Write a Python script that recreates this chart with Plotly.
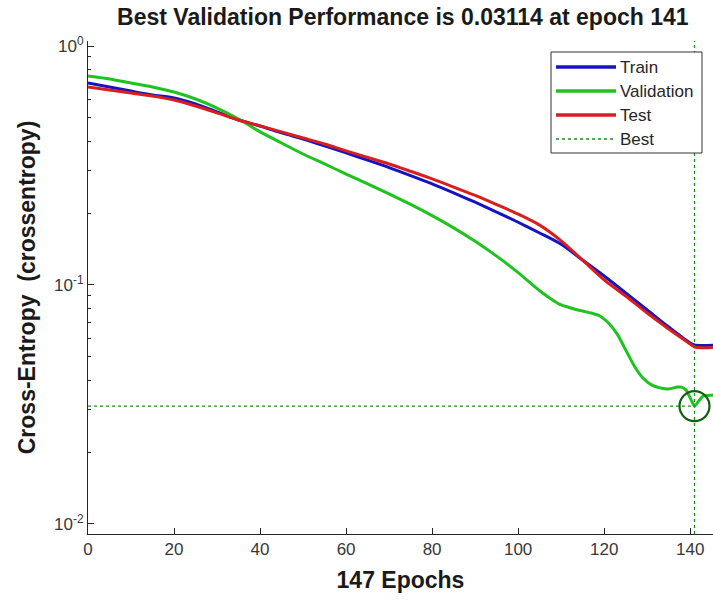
import plotly.graph_objects as go

# Epochs at which values were read
epochs_tr = [0, 5, 10, 15, 20, 25, 30, 35, 40, 45, 50, 55, 60, 65, 70, 75, 80, 85, 90, 95,
             100, 105, 110, 115, 120, 125, 130, 135, 140, 141, 147]
train = [0.700, 0.674, 0.648, 0.624, 0.606, 0.572, 0.530, 0.490, 0.463, 0.433, 0.408, 0.382,
         0.357, 0.333, 0.310, 0.287, 0.265, 0.243, 0.222, 0.202, 0.183, 0.165, 0.148,
         0.127, 0.109, 0.0926, 0.0786, 0.0667, 0.0572, 0.0561, 0.0561]
test = [0.674, 0.655, 0.636, 0.618, 0.594, 0.561, 0.525, 0.490, 0.463, 0.437, 0.412, 0.389,
        0.364, 0.342, 0.321, 0.299, 0.278, 0.257, 0.237, 0.217, 0.198, 0.178, 0.153,
        0.127, 0.105, 0.0899, 0.0763, 0.0654, 0.0566, 0.0550, 0.0550]

epochs_val = [0, 5, 10, 15, 20, 25, 30, 35, 40, 45, 50, 55, 60, 65, 70, 75, 80, 85, 90, 95,
              100, 105, 108, 110, 113, 115, 117, 119, 121, 123, 125, 127, 129, 131, 133, 135,
              137, 138, 139, 140, 141, 142, 143, 145, 147]
validation = [0.749, 0.728, 0.700, 0.674, 0.642, 0.600, 0.550, 0.495, 0.437, 0.3927, 0.3533,
              0.321, 0.2913, 0.2649, 0.2404, 0.2173, 0.195, 0.1734, 0.1524, 0.1321, 0.1127,
              0.0946, 0.0866, 0.0825, 0.0794, 0.0778, 0.0763, 0.0742, 0.0693, 0.0624, 0.0535,
              0.0458, 0.0408, 0.0382, 0.0371, 0.0367, 0.0374, 0.0374, 0.0364, 0.0337, 0.03114,
              0.0327, 0.0343, 0.0346, 0.0346]

best_epoch = 141
best_perf = 0.03114
x_ticks = [0, 20, 40, 60, 80, 100, 120, 140]
y_ticks = [0.01, 0.1, 1]
y_ticktext = ["10<sup>-2</sup>", "10<sup>-1</sup>", "10<sup>0</sup>"]
y_minor = [0.02, 0.03, 0.04, 0.05, 0.06, 0.07, 0.08, 0.09,
           0.2, 0.3, 0.4, 0.5, 0.6, 0.7, 0.8, 0.9]
legend_names = ["Train", "Validation", "Test", "Best"]

y_lo, y_hi = 0.009078, 1.05

BLUE = "#1414c0"
GREEN = "#1ec31e"
RED = "#d81e1e"
BEST = "#1f8f1f"
CIRCLE = "#0f5f0f"
FONT = "Liberation Sans, Arial, sans-serif"

fig = go.Figure()
fig.add_trace(go.Scatter(x=epochs_tr, y=train, mode="lines", name="Train", showlegend=False,
                         line=dict(color=BLUE, width=3, shape="spline", smoothing=0.8)))
fig.add_trace(go.Scatter(x=epochs_val, y=validation, mode="lines", name="Validation",
                         showlegend=False,
                         line=dict(color=GREEN, width=3, shape="spline", smoothing=0.6)))
fig.add_trace(go.Scatter(x=epochs_tr, y=test, mode="lines", name="Test", showlegend=False,
                         line=dict(color=RED, width=3, shape="spline", smoothing=0.8)))
# Best lines: vertical and horizontal dotted
fig.add_trace(go.Scatter(x=[best_epoch, best_epoch, None, 0, best_epoch],
                         y=[y_lo, y_hi, None, best_perf, best_perf],
                         mode="lines", name="Best", showlegend=False,
                         line=dict(color=BEST, width=1.3, dash="dot")))
fig.add_trace(go.Scatter(x=[best_epoch], y=[best_perf], mode="markers", showlegend=False,
                         marker=dict(symbol="circle-open", size=30,
                                     line=dict(color=CIRCLE, width=2.2), color=CIRCLE)))

# Legend box drawn MATLAB-style (long line samples)
def px_x(p):
    return (p - 88) / 625.0

def px_y(p):
    return (534 - p) / 493.0

shapes = [dict(type="rect", xref="paper", yref="paper",
               x0=px_x(551), x1=px_x(702), y0=px_y(153), y1=px_y(52),
               line=dict(color="#333333", width=1), fillcolor="white", layer="above")]
annotations = []
leg_colors = [BLUE, GREEN, RED, BEST]
leg_rows = [67, 91, 115, 139]
for name, col, row in zip(legend_names, leg_colors, leg_rows):
    dash = "dot" if name == "Best" else "solid"
    width = 1.3 if name == "Best" else 3.5
    shapes.append(dict(type="line", xref="paper", yref="paper",
                       x0=px_x(556), x1=px_x(616), y0=px_y(row), y1=px_y(row),
                       line=dict(color=col, width=width, dash=dash), layer="above"))
    annotations.append(dict(text=name, xref="paper", yref="paper", x=px_x(618), y=px_y(row),
                            xanchor="left", yanchor="middle", showarrow=False,
                            font=dict(size=17, color="#262626", family=FONT)))

fig.update_layout(
    width=713, height=605,
    margin=dict(l=88, r=0, t=41, b=71),
    paper_bgcolor="white", plot_bgcolor="white",
    font=dict(family=FONT, color="#262626"),
    title=dict(text="<b>Best Validation Performance is 0.03114 at epoch 141</b>",
               x=0.565, xref="container", xanchor="center",
               y=1 - 17 / 605, yref="container", yanchor="middle",
               font=dict(size=23, color="#1a1a1a", family=FONT)),
    shapes=shapes, annotations=annotations,
    showlegend=False,
)
fig.update_xaxes(
    range=[0, 145.3], tickvals=x_ticks, ticks="inside", ticklen=6, tickwidth=1,
    tickcolor="#262626", showline=True, linecolor="#262626", linewidth=1,
    showgrid=False, zeroline=False, tickfont=dict(size=17, color="#383838"),
    title=dict(text="<b>147 Epochs</b>", font=dict(size=23, color="#1a1a1a"), standoff=13),
)
fig.update_yaxes(
    type="log", range=[-2.042, 0.021], tickvals=y_ticks, ticktext=y_ticktext,
    ticks="inside", ticklen=6, tickwidth=1, tickcolor="#262626",
    minor=dict(tickvals=y_minor, ticks="inside", ticklen=3, tickcolor="#262626", showgrid=False),
    showline=True, linecolor="#262626", linewidth=1, showgrid=False, zeroline=False,
    tickfont=dict(size=17, color="#383838"),
    title=dict(text="<b>Cross-Entropy  (crossentropy)</b>", font=dict(size=23, color="#1a1a1a"),
               standoff=12),
)

fig.write_html("out.html")
